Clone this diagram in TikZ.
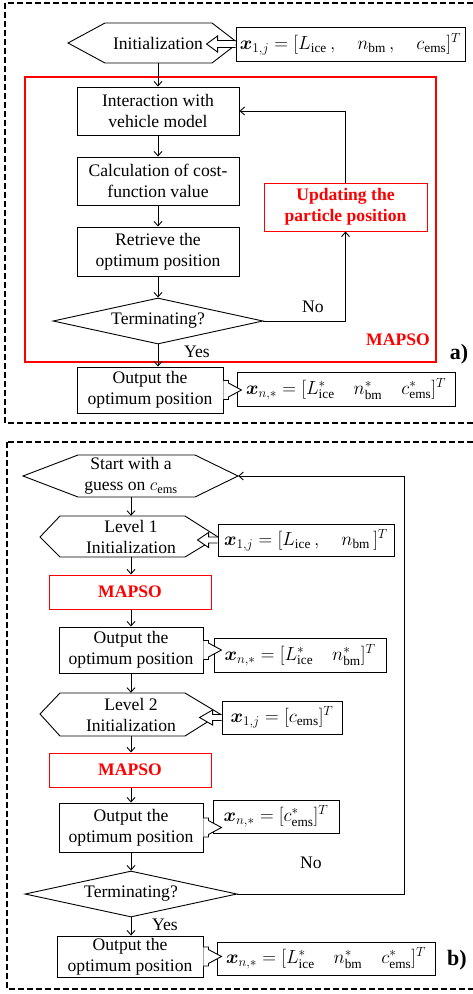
\RequirePackage{fix-cm}
\documentclass[tikz,border=0pt]{standalone}
\usepackage{amsmath}
\usepackage{fontspec}
\setmainfont{Liberation Serif}
\usetikzlibrary{arrows.meta,shapes.geometric,calc}
\newcommand{\fs}{\fontsize{17.6}{21}\selectfont}
\newcommand{\fm}{\fontsize{19}{21}\selectfont}
\begin{document}
\begin{tikzpicture}[x=1pt,y=-1pt,
 box/.style={draw, line width=0.9pt, fill=white, inner sep=0pt, align=center, font=\fs},
 mbox/.style={box, font=\fm},
 rbox/.style={draw=red, line width=1pt, fill=white, inner sep=0pt, align=center, font=\fs\bfseries, text=red},
 txt/.style={inner sep=0pt, align=center, font=\fs},
 dia/.style={draw, shape=diamond, line width=0.9pt, fill=white, inner sep=0pt, aspect=4.6, font=\fs},
 arr/.style={line width=0.9pt, -{Straight Barb[length=4.5pt,width=8pt,line width=0.9pt]}},
 ln/.style={line width=0.9pt},
 hol/.style={line width=0.9pt, fill=white, line join=miter},
 frame/.style={line width=1.6pt, dash pattern=on 6pt off 3pt},
]
\useasboundingbox (0,0) rectangle (473,994);

% ---------------- panel a ----------------
\draw[frame] (5,3) rectangle (476,423);
\draw[red, line width=2pt] (25,77) rectangle (436,362);

\draw[ln, fill=white] (68,43) -- (105,23) -- (212,23) -- (238,43) -- (212,63) -- (105,63) -- cycle;
\node[txt, minimum width=160, minimum height=40] (init) at (158,43) {Initialization};
\node[mbox, minimum width=229, minimum height=34] (xa) at (350.5,44)
 {$\boldsymbol{x}_{1,j}=[L_{\text{ice}}\,,\quad n_{\text{bm}}\,,\quad c_{\text{ems}}]^T$};
\draw[hol] ($(xa.west)+(0,-3.5)$) -- ++(-18,0) -- ++(0,-4.5) -- ($(xa.west)+(-29,0)$)
 -- ($(xa.west)+(-18,8)$) -- ++(0,-4.5) -- ($(xa.west)+(0,3.5)$);

\node[box, minimum width=162, minimum height=48] (inter) at (158,111) {Interaction with\\vehicle model};
\node[box, minimum width=162, minimum height=48] (calc) at (158,181) {Calculation of cost-\\function value};
\node[box, minimum width=162, minimum height=49] (retr) at (158,251.5) {Retrieve the\\optimum position};
\node[dia, minimum width=210, minimum height=46] (term) at (158,321) {Terminating?};
\node[rbox, minimum width=163, minimum height=48] (upd) at (345.5,207) {Updating the\\particle position};
\node[box, minimum width=146, minimum height=46] (outa) at (150,390) {Output the\\optimum position};
\node[mbox, minimum width=218, minimum height=34] (xa2) at (346,389)
 {$\boldsymbol{x}_{n,*}=[L^*_{\text{ice}}\quad n^*_{\text{bm}}\quad c^*_{\text{ems}}]^T$};
\draw[hol] ($(outa.east)+(0,-9.5)$) -- ++(5,0) -- ++(0,2.5) -- ($(outa.east)+(18,0)$)
 -- ($(outa.east)+(5,7)$) -- ++(0,2.5) -- ($(outa.east)+(0,9.5)$);

\draw[arr] (init.south) -- (inter.north);
\draw[arr] (inter.south) -- (calc.north);
\draw[arr] (calc.south) -- (retr.north);
\draw[arr] (retr.south) -- (term.north);
\draw[arr] (term.east) -- (term.east -| upd.south) -- (upd.south);
\draw[arr] (upd.north) -- (upd.north |- inter.east) -- (inter.east);
\draw[arr] (term.south) -- (term.south |- outa.north);

\node[txt] (noa) at (313,307) {No};
\node[txt] (yesa) at (197,352) {Yes};
\node[txt, text=red, font=\fs\bfseries] (mapa) at (398,340) {MAPSO};
\node[txt, font=\fontsize{22}{24}\selectfont\bfseries] (la) at (459,354) {a)};

% ---------------- panel b ----------------
\draw[frame] (7,442) rectangle (476,989);

\draw[ln, fill=white] (23,476) -- (78,455) -- (195,455) -- (238,476) -- (195,497) -- (78,497) -- cycle;
\node[txt, minimum width=214, minimum height=42] (start) at (131,476) {Start with a\\guess on $c_{\text{ems}}$};

\draw[ln, fill=white] (40,537) -- (60,516) -- (185,516) -- (218,537) -- (185,557) -- (60,557) -- cycle;
\node[txt, minimum width=150, minimum height=41] (lev1) at (131,536.5) {Level 1\\Initialization};
\node[mbox, minimum width=176, minimum height=32] (xb1) at (306,540)
 {$\boldsymbol{x}_{1,j}=[L_{\text{ice}}\,,\quad n_{\text{bm}}\,]^T$};
\draw[hol] ($(xb1.west)+(0,-3)$) -- ++(-9,0) -- ++(0,-4.5) -- ($(xb1.west)+(-20,0)$)
 -- ($(xb1.west)+(-9,7.5)$) -- ++(0,-4.5) -- ($(xb1.west)+(0,3)$);

\node[rbox, minimum width=162, minimum height=34] (map1) at (130,592) {MAPSO};
\node[box, minimum width=144, minimum height=46] (outb1) at (131,650) {Output the\\optimum position};
\node[mbox, minimum width=172, minimum height=34] (xb2) at (300,655)
 {$\boldsymbol{x}_{n,*}=[L^*_{\text{ice}}\quad n^*_{\text{bm}}]^T$};
\draw[hol] ($(outb1.east)+(0,-9.5)$) -- ++(5,0) -- ++(0,2.5) -- ($(outb1.east)+(18,0)$)
 -- ($(outb1.east)+(5,7)$) -- ++(0,2.5) -- ($(outb1.east)+(0,9.5)$);

\draw[ln, fill=white] (40,714) -- (60,693) -- (185,693) -- (220,714) -- (185,736) -- (60,736) -- cycle;
\node[txt, minimum width=150, minimum height=43] (lev2) at (131,714.5) {Level 2\\Initialization};
\node[mbox, minimum width=120, minimum height=33] (xb3) at (282,717.5)
 {$\boldsymbol{x}_{1,j}=[c_{\text{ems}}]^T$};
\draw[hol] ($(xb3.west)+(0,-3)$) -- ++(-9,0) -- ++(0,-4.5) -- ($(xb3.west)+(-22,0)$)
 -- ($(xb3.west)+(-9,7.5)$) -- ++(0,-4.5) -- ($(xb3.west)+(0,3)$);

\node[rbox, minimum width=162, minimum height=34] (map2) at (130,770) {MAPSO};
\node[box, minimum width=144, minimum height=49] (outb2) at (131,827.5) {Output the\\optimum position};
\node[mbox, minimum width=126, minimum height=33] (xb4) at (276,816.5)
 {$\boldsymbol{x}_{n,*}=[c^*_{\text{ems}}]^T$};
\draw[hol] ($(outb2.east)+(0,-9.5)$) -- ++(5,0) -- ++(0,2.5) -- ($(outb2.east)+(18,0)$)
 -- ($(outb2.east)+(5,7)$) -- ++(0,2.5) -- ($(outb2.east)+(0,9.5)$);

\node[dia, minimum width=212, minimum height=46] (term2) at (131,894) {Terminating?};
\node[box, minimum width=146, minimum height=41] (outb3) at (130,956.5) {Output the\\optimum position};
\node[mbox, minimum width=218, minimum height=33] (xb5) at (326,958.5)
 {$\boldsymbol{x}_{n,*}=[L^*_{\text{ice}}\quad n^*_{\text{bm}}\quad c^*_{\text{ems}}]^T$};
\draw[hol] ($(outb3.east)+(0,-9.5)$) -- ++(5,0) -- ++(0,2.5) -- ($(outb3.east)+(18,0)$)
 -- ($(outb3.east)+(5,7)$) -- ++(0,2.5) -- ($(outb3.east)+(0,9.5)$);

\coordinate (loopr) at (404,894);
\draw[arr] (start.south) -- (lev1.north);
\draw[arr] (lev1.south) -- (lev1.south |- map1.north);
\draw[arr] (lev1.south |- map1.south) -- (lev1.south |- outb1.north);
\draw[arr] (outb1.south) -- (lev2.north);
\draw[arr] (lev2.south) -- (lev2.south |- map2.north);
\draw[arr] (lev2.south |- map2.south) -- (lev2.south |- outb2.north);
\draw[arr] (outb2.south) -- (term2.north);
\draw[arr] (term2.east) -- (loopr) -- (loopr |- start.east) -- (start.east);
\draw[arr] (term2.south) -- (term2.south |- outb3.north);

\node[txt] (nob) at (311,863) {No};
\node[txt] (yesb) at (165,925) {Yes};
\node[txt, font=\fontsize{22}{24}\selectfont\bfseries] (lb) at (457,960) {b)};
\end{tikzpicture}
\end{document}
